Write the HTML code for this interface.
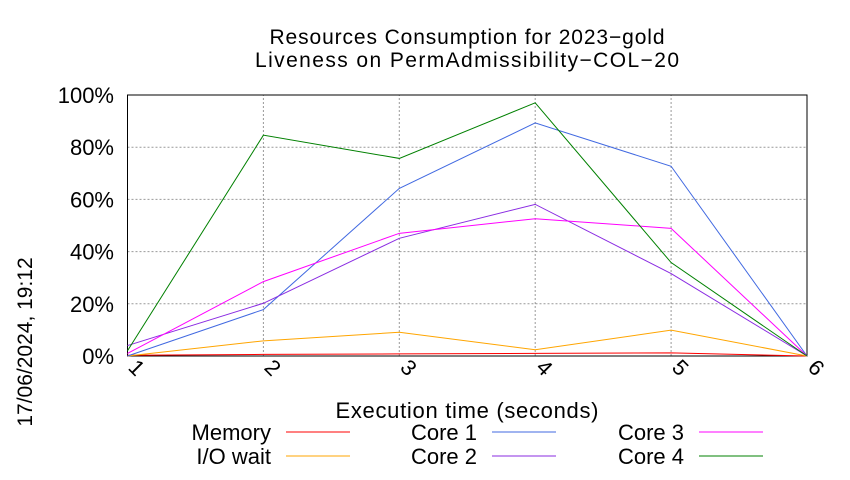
<!DOCTYPE html>
<html><head><meta charset="utf-8"><style>
body{margin:0;background:#fff}
svg text{font-family:"Liberation Sans",sans-serif;fill:#000}
</style></head><body>
<svg width="850" height="475" viewBox="0 0 850 475" xmlns="http://www.w3.org/2000/svg">
<g id="grid"></g>
<g id="axes"></g>
<g id="series"></g>
<text x="467" y="44" font-size="21" text-anchor="middle" textLength="395">Resources Consumption for 2023−gold</text>
<text x="467" y="67" font-size="21" text-anchor="middle" textLength="424">Liveness on PermAdmissibility−COL−20</text>
<text x="467" y="418" font-size="22" text-anchor="middle" textLength="263">Execution time (seconds)</text>
<text transform="translate(32,342) rotate(-90)" font-size="21" text-anchor="middle">17/06/2024, 19:12</text>
<g id="legend"></g>
</svg>
<script>
const categories=[1,2,3,4,5,6];
const yTicks=[0,20,40,60,80,100];
const memory=[0.3,0.6,0.8,1.0,1.2,0];
const ioWait=[0,5.8,9.1,2.4,9.9,0];
const core1=[0,17.8,64.2,89.3,72.7,0];
const core2=[4,20.2,45.1,58.1,31.6,0];
const core3=[1,28.5,47,52.6,48.9,0];
const core4=[2,84.6,75.7,97,35.8,0];
const NS="http://www.w3.org/2000/svg";
const X0=127.5,X1=807,Y0=356,Y1=95;
const xs=v=>X0+(v-1)/(5)*(X1-X0);
const ys=v=>Y0-v/100*(Y0-Y1);
function mk(t,a,p){const e=document.createElementNS(NS,t);for(const k in a)e.setAttribute(k,a[k]);p.appendChild(e);return e;}
const grid=document.getElementById('grid'),axes=document.getElementById('axes');
yTicks.forEach(t=>{
 const l=mk('line',{x1:X0,x2:X1,y1:ys(t),y2:ys(t),stroke:'#999','stroke-dasharray':'2,2','stroke-width':1},grid);
 
 
 const tx=mk('text',{x:114,y:ys(t)+8,'font-size':22,'text-anchor':'end'},axes);
 tx.textContent=t+'%';
 
 
});
categories.forEach(c=>{
 const l=mk('line',{x1:xs(c),x2:xs(c),y1:Y0,y2:Y1,stroke:'#999','stroke-dasharray':'2,2','stroke-width':1},grid);
 
 
 const tx=mk('text',{transform:`translate(${xs(c)+4},${373}) rotate(45)`,'font-size':22,'text-anchor':'middle'},axes);
 tx.textContent=c;
 
 
});
const fr=mk('rect',{x:X0,y:Y1,width:X1-X0,height:Y0-Y1,fill:'none',stroke:'#000','stroke-width':1},axes);


const seriesList=[["Memory",memory,"#ff0000"],["I/O wait",ioWait,"#ffa500"],["Core 1",core1,"#4169e1"],["Core 2",core2,"#8a2be2"],["Core 3",core3,"#ff00ff"],["Core 4",core4,"#008000"]];
const sg=document.getElementById('series'),lg=document.getElementById('legend');
seriesList.forEach((s,i)=>{
 const pts=s[1].map((v,j)=>xs(categories[j])+','+ys(v)).join(' ');
 const p=mk('polyline',{points:pts,fill:'none',stroke:s[2],'stroke-width':1},sg);
 
 
 const col=Math.floor(i/2),row=i%2;
 const tx=[271,477,684][col],y=[440,464][row];
 const t=mk('text',{x:tx,y:y,'font-size':22,'text-anchor':'end'},lg);
 t.textContent=s[0];
 
 
 const l=mk('line',{x1:tx+15,x2:tx+79,y1:y-8,y2:y-8,stroke:s[2],'stroke-width':1},lg);
 
 
});
</script>
</body></html>
